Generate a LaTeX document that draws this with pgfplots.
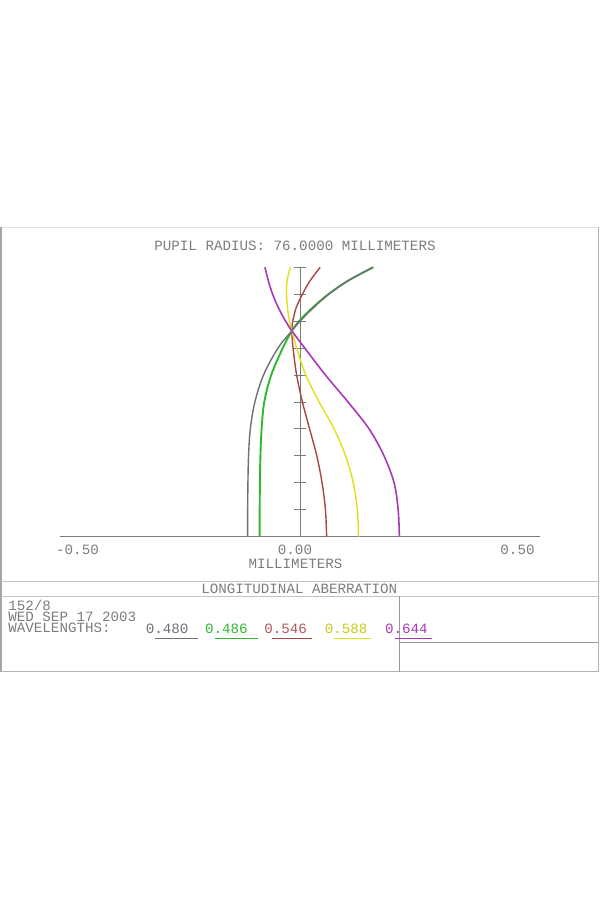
\documentclass[border=0pt]{standalone}
\usepackage{fontspec}
\usepackage{pgfplots}
\pgfplotsset{compat=1.18}
\newfontfamily\plotfont{Liberation Mono}

\definecolor{framegray}{HTML}{B4B4B4}
\definecolor{txtgray}{HTML}{7C7C7C}
\definecolor{wlA}{HTML}{6F6F7A}
\definecolor{wlB}{HTML}{2FB82F}
\definecolor{wlC}{HTML}{A84545}
\definecolor{wlD}{HTML}{E0E018}
\definecolor{wlE}{HTML}{A838B8}

% longitudinal aberration (mm) against relative pupil height, one table per wavelength
\pgfplotstableread{
x y
-0.109 0.00
-0.109 0.10
-0.1085 0.20
-0.1072 0.30
-0.1035 0.40
-0.094 0.50
-0.076 0.60
-0.046 0.70
-0.017 0.764
0.000 0.80
0.028 0.85
0.060 0.90
0.100 0.95
0.151 1.00
}\wlAtab
\pgfplotstableread{
x y
-0.084 0.00
-0.084 0.10
-0.0835 0.20
-0.0825 0.30
-0.080 0.40
-0.0745 0.50
-0.060 0.60
-0.036 0.70
-0.017 0.764
-0.002 0.80
0.026 0.85
0.059 0.90
0.100 0.95
0.153 1.00
}\wlBtab
\pgfplotstableread{
x y
0.0555 0.00
0.053 0.10
0.046 0.20
0.035 0.30
0.020 0.40
0.005 0.50
-0.007 0.60
-0.0145 0.70
-0.017 0.764
-0.015 0.80
-0.008 0.85
0.005 0.90
0.021 0.95
0.042 1.00
}\wlCtab
\pgfplotstableread{
x y
0.122 0.00
0.1195 0.10
0.111 0.20
0.095 0.30
0.071 0.40
0.040 0.50
0.012 0.60
-0.007 0.70
-0.017 0.764
-0.022 0.80
-0.026 0.85
-0.028 0.90
-0.027 0.95
-0.020 1.00
}\wlDtab
\pgfplotstableread{
x y
0.207 0.00
0.2045 0.10
0.196 0.20
0.175 0.30
0.144 0.40
0.100 0.50
0.053 0.60
0.010 0.70
-0.017 0.764
-0.030 0.80
-0.045 0.85
-0.057 0.90
-0.066 0.95
-0.073 1.00
}\wlEtab

\begin{document}
\begin{tikzpicture}
\begin{axis}[
  name=ax,
  scale only axis,
  width=240pt, height=134.7pt,
  xmin=-0.5, xmax=0.5, ymin=0, ymax=1,
  enlargelimits=false,
  clip=false,
  separate axis lines,
  axis x line=bottom,
  axis y line=middle,
  axis line style={-, draw=txtgray, line width=0.45pt},
  xtick=\empty,
  minor xtick={-0.5,-0.45,-0.4,-0.35,-0.3,-0.25,-0.2,-0.15,-0.1,-0.05,0,0.05,0.1,0.15,0.2,0.25,0.3,0.35,0.4,0.45,0.5},
  minor tick length=2pt,
  xtick align=outside,
  ytick={0.1,0.2,0.3,0.4,0.5,0.6,0.7,0.8,0.9,1.0},
  yticklabels={},
  ytick align=center,
  major tick length=6pt,
  tick style={draw=txtgray, line width=0.45pt},
  every axis plot/.append style={smooth, tension=0.55, no markers},
]
\addplot[wlB, line width=0.95pt] table[x=x, y=y] {\wlBtab};
\addplot[wlA, line width=0.7pt] table[x=x, y=y] {\wlAtab};
\addplot[wlC, line width=0.7pt] table[x=x, y=y] {\wlCtab};
\addplot[wlD, line width=0.7pt] table[x=x, y=y] {\wlDtab};
\addplot[wlE, line width=0.8pt] table[x=x, y=y] {\wlEtab};
\end{axis}

% frame and texts, in pixel units of the 600x900 page
\begin{scope}[shift={(ax.south west)}, shift={(-30pt,268.35pt)}, x=0.5pt, y=-0.5pt,
  every node/.style={inner sep=0pt, text height=4.6pt, text depth=0pt,
    font=\plotfont\fontsize{7.1}{8.5}\selectfont, text=txtgray}]
\path (0,0) rectangle (600,900);
\draw[framegray!40, line width=0.4pt] (1,227) -- (598,227);
\draw[gray!70, line width=0.6pt] (1,227) -- (1,671.5);
\draw[framegray, line width=0.5pt] (598,227) -- (598,671.5);
\draw[framegray, line width=0.5pt] (1,671.5) -- (598,671.5);
\draw[framegray!80, line width=0.5pt] (1,581.5) -- (598,581.5);
\draw[framegray!80, line width=0.5pt] (1,596) -- (598,596);
\draw[gray!80, line width=0.45pt] (399.5,596) -- (399.5,671.5);
\draw[gray!80, line width=0.45pt] (399.5,642.7) -- (598,642.7);

\node[anchor=base] at (295,251) {PUPIL RADIUS: 76.0000 MILLIMETERS};
\node[anchor=base] at (77.5,555) {-0.50};
\node[anchor=base] at (295,554.5) {0.00};
\node[anchor=base] at (517.5,555) {0.50};
\node[anchor=base] at (295.5,568.5) {MILLIMETERS};
\node[anchor=base] at (299.3,593.3) {LONGITUDINAL ABERRATION};
\node[anchor=base west] at (8,610) {152/8};
\node[anchor=base west] at (8,621.7) {WED SEP 17 2003};
\node[anchor=base west] at (8,632.3) {WAVELENGTHS:};

\node[anchor=base west, text=wlA] at (145.4,633) {0.480};
\node[anchor=base west, text=wlB] at (204.7,633) {0.486};
\node[anchor=base west, text=wlC!90!white] at (264,633) {0.546};
\node[anchor=base west, text=wlD!90!black] at (324.5,633) {0.588};
\node[anchor=base west, text=wlE] at (384.6,633) {0.644};
\draw[wlA, line width=0.5pt] (155,638.5) -- (198,638.5);
\draw[wlB, line width=0.5pt] (215,638.5) -- (258,638.5);
\draw[wlC, line width=0.5pt] (272,638.5) -- (312,638.5);
\draw[wlD, line width=0.5pt] (334,638.5) -- (371,638.5);
\draw[wlE, line width=0.5pt] (395,638.5) -- (432,638.5);
\end{scope}
\end{tikzpicture}
\end{document}
